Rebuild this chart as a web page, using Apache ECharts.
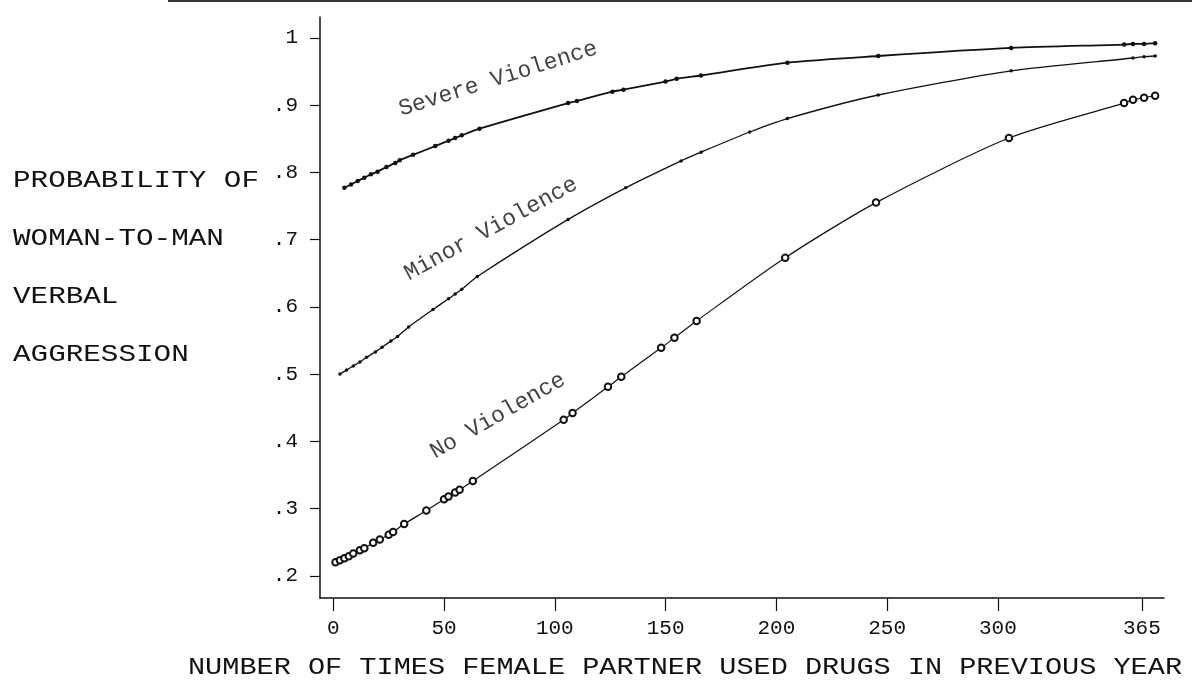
<!DOCTYPE html>
<html><head><meta charset="utf-8">
<script src="https://cdn.jsdelivr.net/npm/echarts@6/dist/echarts.min.js"></script>
<style>html,body{margin:0;padding:0;background:#fff}#c{width:1192px;height:685px}</style>
</head><body><div id="c"></div>
<script>
// ---- data ----
const severeX = [5, 8, 11, 14, 17, 20, 24, 28, 30, 36, 46, 52, 55, 58, 66, 106, 110, 126, 131, 150, 155, 166, 205, 246, 306, 357, 361, 366, 371];
const severeY = [0.777, 0.782, 0.787, 0.792, 0.797, 0.801, 0.808, 0.814, 0.818, 0.826, 0.839, 0.847, 0.851, 0.855, 0.865, 0.903, 0.906, 0.920, 0.923, 0.935, 0.939, 0.944, 0.963, 0.973, 0.985, 0.990, 0.991, 0.991, 0.992];

const minorX = [3, 6, 9, 12, 15, 19, 22, 26, 29, 34, 45, 52, 55, 58, 65, 106, 132, 157, 166, 188, 205, 246, 306, 361, 366, 371];
const minorY = [0.500, 0.506, 0.512, 0.518, 0.525, 0.533, 0.540, 0.549, 0.556, 0.570, 0.596, 0.612, 0.619, 0.626, 0.645, 0.730, 0.777, 0.817, 0.830, 0.860, 0.880, 0.915, 0.951, 0.970, 0.972, 0.973];

const noneX = [1, 3, 5, 7, 9, 12, 14, 18, 21, 25, 27, 32, 42, 50, 52, 55, 57, 63, 104, 108, 124, 130, 148, 154, 164, 204, 245, 305, 357, 361, 366, 371];
const noneY = [0.220, 0.223, 0.226, 0.229, 0.233, 0.238, 0.241, 0.249, 0.254, 0.261, 0.265, 0.277, 0.297, 0.314, 0.318, 0.324, 0.328, 0.341, 0.432, 0.442, 0.481, 0.496, 0.539, 0.554, 0.579, 0.673, 0.755, 0.851, 0.903, 0.908, 0.911, 0.914];

const xTicks = [0, 50, 100, 150, 200, 250, 300, 365];
const yTicks = [0.2, 0.3, 0.4, 0.5, 0.6, 0.7, 0.8, 0.9, 1];
const yTickLabels = ['.2', '.3', '.4', '.5', '.6', '.7', '.8', '.9', '1'];
const curveNames = ['Severe Violence', 'Minor Violence', 'No Violence'];
const yTitleLines = ['PROBABILITY OF', 'WOMAN-TO-MAN', 'VERBAL', 'AGGRESSION'];
const xTitle = 'NUMBER OF TIMES FEMALE PARTNER USED DRUGS IN PREVIOUS YEAR';

// ---- chart ----
const MONO = "'Courier New', 'Liberation Mono', monospace";
const INK = '#111';
const zip = (xs, ys) => xs.map((x, i) => [x, ys[i]]);

const chart = echarts.init(document.getElementById('c'), null, { renderer: 'canvas' });

function curve(name, xs, ys, width, symbolSize, hollow) {
  return {
    name, type: 'line', data: zip(xs, ys),
    smooth: 0.25,
    lineStyle: { color: INK, width },
    symbol: 'circle', symbolSize, showSymbol: true,
    itemStyle: hollow ? { color: '#fff', borderColor: INK, borderWidth: 2 } : { color: INK, borderWidth: 0 },
    silent: true, animation: false, z: 3
  };
}
function curveLabel(text, pos, angle) {
  return {
    type: 'scatter', data: [pos], symbolSize: 0, silent: true, animation: false, z: 4,
    label: {
      show: true, position: 'inside', formatter: text, rotate: angle,
      fontFamily: MONO, fontSize: 23, color: INK, align: 'center', verticalAlign: 'middle'
    }
  };
}

const yTitleGraphics = yTitleLines.map((t, i) => ({
  type: 'text', x: 13, y: 181 + i * 58, scaleX: 1.22, silent: true,
  style: { text: t, font: '24px ' + MONO, fill: INK, textAlign: 'left', textVerticalAlign: 'middle' }
}));

chart.setOption({
  backgroundColor: '#fff',
  animation: false,
  grid: { left: 320, right: 28, top: 17, bottom: 87, outerBoundsMode: 'none', containLabel: false },
  xAxis: {
    type: 'value', min: -6, max: 375,
    axisLine: { show: true, onZero: false, lineStyle: { color: INK, width: 1.5 } },
    axisTick: { show: true, customValues: xTicks, length: 13, lineStyle: { color: INK, width: 1.2 } },
    axisLabel: { show: true, customValues: xTicks, margin: 20, fontFamily: MONO, fontSize: 21, color: INK },
    splitLine: { show: false }
  },
  yAxis: {
    type: 'value', min: 0.167, max: 1.031,
    axisLine: { show: true, onZero: false, lineStyle: { color: INK, width: 1.5 } },
    axisTick: { show: true, customValues: yTicks, length: 10, lineStyle: { color: INK, width: 1.2 } },
    axisLabel: {
      show: true, customValues: yTicks, margin: 22, fontFamily: MONO, fontSize: 21, color: INK,
      formatter: v => { const i = yTicks.findIndex(t => Math.abs(t - v) < 1e-6); return i >= 0 ? yTickLabels[i] : ''; }
    },
    splitLine: { show: false }
  },
  series: [
    curve(curveNames[0], severeX, severeY, 1.8, 4.5, false),
    curve(curveNames[1], minorX, minorY, 1.3, 3.5, false),
    curve(curveNames[2], noneX, noneY, 1.2, 6.5, true),
    curveLabel(curveNames[0], [74.4, 0.939], 17.5),
    curveLabel(curveNames[1], [71.2, 0.716], 28.6),
    curveLabel(curveNames[2], [74.3, 0.438], 29.8)
  ],
  graphic: [
    { type: 'line', silent: true, shape: { x1: 168, y1: 1, x2: 1192, y2: 1 }, style: { stroke: '#333', lineWidth: 2 } },
    ...yTitleGraphics,
    {
      type: 'text', x: 685, y: 668, scaleX: 1.19, silent: true,
      style: { text: xTitle, font: '24px ' + MONO, fill: INK, textAlign: 'center', textVerticalAlign: 'middle' }
    }
  ]
});
</script></body></html>
